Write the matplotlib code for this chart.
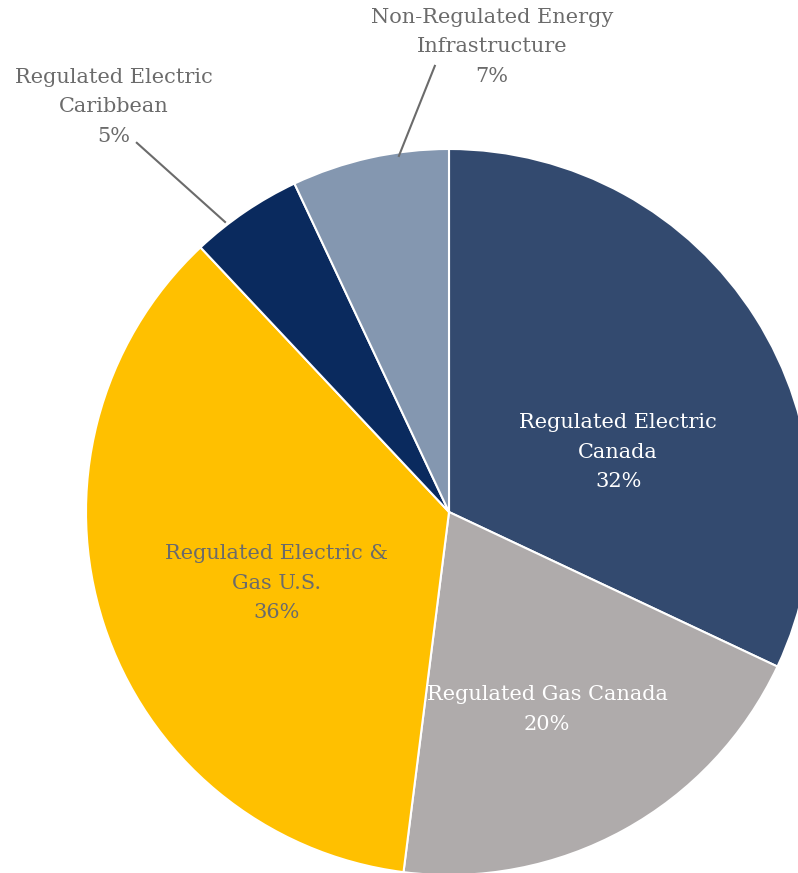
import matplotlib
matplotlib.use("Agg")
import matplotlib.pyplot as plt
import numpy as np

# segment shares, clockwise from 12 o'clock
labels = ["Regulated Electric\nCanada", "Regulated Gas Canada",
          "Regulated Electric &\nGas U.S.", "Regulated Electric\nCaribbean",
          "Non-Regulated Energy\nInfrastructure"]
shares = [32, 20, 36, 5, 7]
colors = ["#334A6F", "#AFABAB", "#FFC000", "#0A2A5E", "#8497B0"]

# label placement (data coords of the pie, radius 1) and text colours
label_pos = [(0.466, 0.165), (0.27, -0.545), (-0.474, -0.196),
             (-0.923, 1.116), (0.118, 1.281)]
label_col = ["white", "white", "#6B6B6B", "#6B6B6B", "#6B6B6B"]
# leader lines for the two small outside labels: (text end, wedge end)
leaders = {3: ((-0.86, 1.017), (-0.617, 0.799)),
           4: ((-0.039, 1.229), (-0.138, 0.981))}

W, H = 798, 873
cx, cy, r = 449, 512, 363

fig = plt.figure(figsize=(W / 100, H / 100), dpi=100)
ax = fig.add_axes([(cx - r) / W, (H - cy - r) / H, 2 * r / W, 2 * r / H])
ax.pie(shares, colors=colors, startangle=90, counterclock=False, radius=1,
       wedgeprops=dict(edgecolor="white", linewidth=1.5))
ax.set_xlim(-1, 1)
ax.set_ylim(-1, 1)
ax.set_aspect("equal")
ax.axis("off")

for i, (lab, s) in enumerate(zip(labels, shares)):
    x, y = label_pos[i]
    ax.text(x, y, f"{lab}\n{s}%", ha="center", va="center", color=label_col[i],
            fontsize=15, family="DejaVu Serif", linespacing=1.72, clip_on=False)
    if i in leaders:
        (x0, y0), (x1, y1) = leaders[i]
        ax.plot([x0, x1], [y0, y1], color="#6B6B6B", lw=1.5, clip_on=False)

fig.savefig("out.png", dpi=100)
